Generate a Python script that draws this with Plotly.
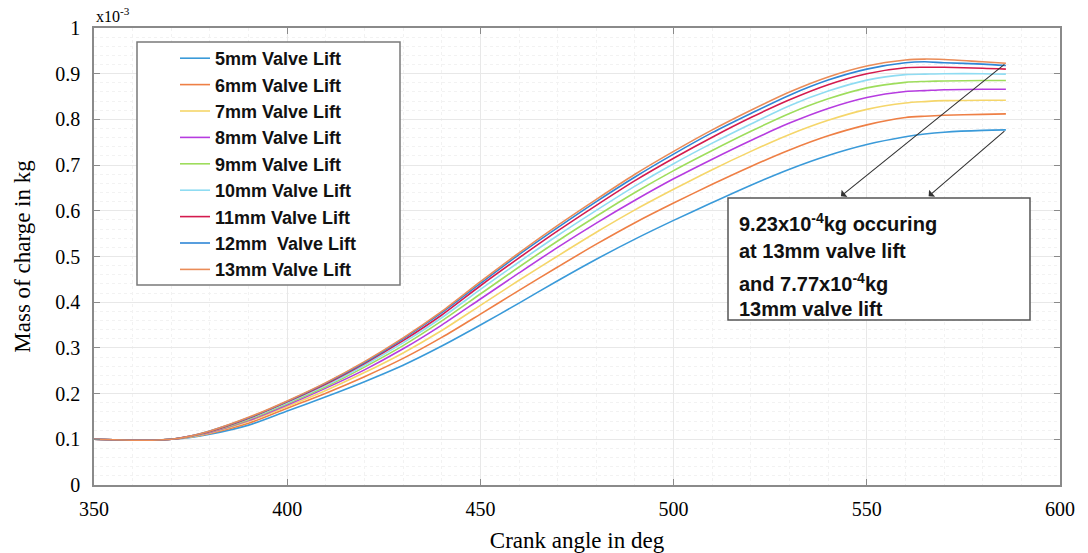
import plotly.graph_objects as go

# Crank angle (deg)
crank = [350, 355, 360, 365, 370, 375, 380, 390, 400, 410, 420, 430, 440, 450, 460,
         470, 480, 490, 500, 510, 520, 530, 540, 550, 560, 565, 570, 580, 586]

# Mass of charge (x10^-3 kg)
lift_5 = [.100, .099, .098, .098, .100, .104, .111, .131, .162, .193, .226, .262, .304, .350, .398,
          .447, .494, .538, .579, .618, .656, .691, .721, .745, .762, .768, .772, .776, .777]
lift_6 = [.100, .099, .098, .098, .100, .105, .113, .135, .168, .201, .237, .277, .323, .374, .426,
          .477, .527, .574, .617, .658, .697, .733, .764, .788, .804, .807, .809, .811, .812]
lift_7 = [.100, .099, .098, .098, .100, .105, .114, .139, .172, .207, .246, .289, .338, .393, .448,
          .501, .553, .602, .647, .690, .730, .767, .798, .822, .836, .839, .841, .842, .842]
lift_8 = [.100, .099, .098, .098, .100, .106, .115, .141, .175, .212, .252, .298, .350, .407, .464,
          .520, .573, .623, .670, .713, .754, .792, .824, .848, .861, .863, .865, .866, .866]
lift_9 = [.100, .099, .098, .098, .100, .106, .116, .143, .178, .215, .258, .305, .359, .418, .477,
          .534, .588, .640, .688, .732, .774, .813, .845, .869, .881, .883, .884, .885, .885]
lift_10 = [.100, .099, .098, .098, .100, .106, .117, .145, .180, .218, .262, .311, .366, .428, .488,
           .546, .601, .654, .703, .748, .790, .830, .862, .886, .898, .899, .900, .900, .899]
lift_11 = [.100, .099, .098, .098, .100, .107, .117, .146, .182, .221, .266, .316, .372, .436, .497,
           .556, .612, .666, .715, .761, .804, .843, .876, .900, .913, .914, .914, .912, .910]
lift_12 = [.100, .099, .098, .098, .100, .107, .118, .147, .183, .223, .268, .320, .377, .441, .504,
           .563, .620, .674, .724, .771, .813, .853, .886, .910, .924, .926, .924, .921, .918]
lift_13 = [.100, .099, .098, .098, .100, .107, .118, .148, .184, .224, .270, .322, .380, .445, .508,
           .568, .625, .680, .730, .777, .820, .860, .893, .917, .930, .932, .931, .926, .923]

series_names = ["5mm Valve Lift", "6mm Valve Lift", "7mm Valve Lift", "8mm Valve Lift",
                "9mm Valve Lift", "10mm Valve Lift", "11mm Valve Lift", "12mm  Valve Lift",
                "13mm Valve Lift"]
series_values = [lift_5, lift_6, lift_7, lift_8, lift_9, lift_10, lift_11, lift_12, lift_13]
series_colors = ["#3A9AD9", "#EE7F45", "#F5D66A", "#B63CE0", "#9EDD5C", "#8FDCF2",
                 "#D41B4E", "#2F86D6", "#EA8C58"]

annotation_lines = ["9.23x10<sup>-4</sup>kg occuring", "at 13mm valve lift",
                    "and 7.77x10<sup>-4</sup>kg", "13mm valve lift"]

fig = go.Figure()
for name, vals, col in zip(series_names, series_values, series_colors):
    fig.add_trace(go.Scatter(x=crank, y=vals, mode="lines", name=name,
                             line=dict(color=col, width=1.6, shape="spline", smoothing=0.8)))

W, H = 1088, 553
L, R, T, B = 94, 28, 28, 68
pw, ph = W - L - R, H - T - B


def px_x(p):
    return (p - L) / pw


def px_y(p):
    return (H - B - p) / ph


serif = "Liberation Serif, Times New Roman, serif"
sans = "Liberation Sans, Arial, sans-serif"

axis_common = dict(
    showline=True, linecolor="#8a8a8a", linewidth=1.5, mirror="ticks",
    ticks="inside", ticklen=6, tickcolor="#8a8a8a", tickwidth=1.3,
    showgrid=True, gridcolor="#E8E8E8", gridwidth=1, zeroline=False,
    automargin=False,
    tickfont=dict(family=serif, size=20, color="black"),
)

fig.update_layout(
    width=W, height=H,
    margin=dict(l=L, r=R, t=T, b=B),
    plot_bgcolor="white", paper_bgcolor="white",
    xaxis=dict(range=[350, 600], tick0=350, dtick=50,
               minor=dict(dtick=10, showgrid=True, gridcolor="#F2F2F2", griddash="dot", ticks=""),
               title=dict(text="Crank angle in deg", font=dict(family=serif, size=23, color="black"),
                          standoff=18),
               ticklabelstandoff=5, **axis_common),
    yaxis=dict(range=[0, 1], tick0=0, dtick=0.1,
               minor=dict(dtick=0.02, showgrid=True, gridcolor="#F2F2F2", griddash="dot", ticks=""),
               title=dict(text="Mass of charge in kg", font=dict(family=serif, size=23, color="black"),
                          standoff=18),
               ticklabelstandoff=8, **axis_common),
    showlegend=True,
    legend=dict(x=px_x(175), y=px_y(40), xanchor="left", yanchor="top",
                bgcolor="rgba(0,0,0,0)", borderwidth=0,
                font=dict(family=sans, size=18, color="#111111", weight="bold"),
                tracegroupgap=0),
)

# legend frame
fig.add_shape(type="rect", xref="paper", yref="paper",
              x0=px_x(137), x1=px_x(400), y0=px_y(285), y1=px_y(42),
              line=dict(color="#7a7a7a", width=1.5), fillcolor="white", layer="above")

# annotation box
fig.add_shape(type="rect", xref="paper", yref="paper",
              x0=px_x(728), x1=px_x(1030), y0=px_y(320), y1=px_y(198),
              line=dict(color="#555555", width=1.5), fillcolor="white", layer="above")
line_y = [222, 251, 282, 309]
for txt, yy in zip(annotation_lines, line_y):
    fig.add_annotation(text=txt, xref="paper", yref="paper", x=px_x(737), y=px_y(yy),
                       xanchor="left", yanchor="middle", showarrow=False,
                       font=dict(family=sans, size=20, color="#111111", weight="bold"))

# arrows from curve ends to the box
arrow_heads = [(543.3, 0.632), (566.0, 0.632)]
arrow_tails = [(crank[-1], lift_13[-1]), (crank[-1], lift_5[-1])]
for (hx, hy), (tx, ty) in zip(arrow_heads, arrow_tails):
    fig.add_annotation(x=hx, y=hy, ax=tx, ay=ty, xref="x", yref="y", axref="x", ayref="y",
                       text="", showarrow=True, arrowhead=1, arrowsize=1.4, arrowwidth=1.1,
                       arrowcolor="#333333")

# exponent label
fig.add_annotation(text="x10<sup>-3</sup>", xref="paper", yref="paper", x=0, y=1,
                   xanchor="left", yanchor="bottom", showarrow=False, yshift=1,
                   font=dict(family=serif, size=16, color="black"))

fig.write_html("out.html", config={"displayModeBar": False},
               post_script="document.body.style.margin='0';")
